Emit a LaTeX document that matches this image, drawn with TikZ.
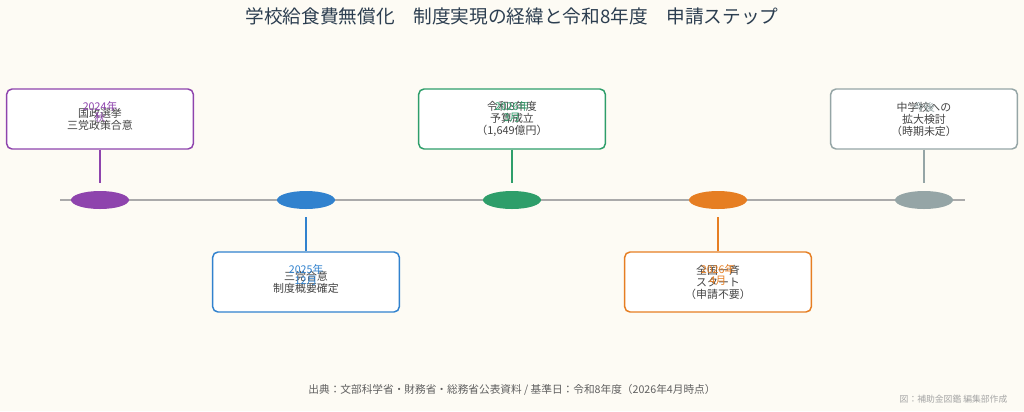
\documentclass[tikz,border=0pt]{standalone}
\usepackage{fontspec}
\setmainfont{Noto Sans CJK JP}
\usetikzlibrary{shapes.geometric}
\definecolor{bgcol}{HTML}{FDFBF4}
\definecolor{titlecol}{HTML}{2C3E50}
\definecolor{txtcol}{HTML}{444444}
\definecolor{linecol}{HTML}{AAAAAA}
\definecolor{cpurple}{HTML}{8E44AD}
\definecolor{cblue}{HTML}{3182CE}
\definecolor{cgreen}{HTML}{2E9E6A}
\definecolor{corange}{HTML}{E67E22}
\definecolor{cgrey}{HTML}{95A5A6}
\begin{document}
\begin{tikzpicture}[x=0.75pt,y=-0.75pt,
  evbox/.style={draw=#1, fill=white, rounded corners=4pt, line width=1.1pt, align=center,
    minimum width=140pt, minimum height=45pt, inner sep=0pt, text=txtcol,
    font=\fontsize{8.2}{9}\selectfont},
  datelbl/.style={text=#1, align=center, inner sep=0pt, font=\fontsize{8}{8.4}\selectfont},
  dot/.style={ellipse, fill=#1, minimum width=43.5pt, minimum height=13.5pt, inner sep=0pt},
  tick/.style={draw=#1, line width=1.1pt}]
\useasboundingbox[fill=bgcol] (0,0) rectangle (1024,411);
\node[text=titlecol, font=\fontsize{14}{16}\selectfont] (title) at (512,16) {学校給食費無償化\hspace{1em}制度実現の経緯と令和8年度\hspace{1em}申請ステップ};
% timeline
\coordinate (tl-start) at (60,200);
\coordinate (tl-end) at (965,200);
\draw[linecol, line width=1.5pt] (tl-start) -- (tl-end);
\node[dot=cpurple] (e1) at (100,200) {};
\node[dot=cblue] (e2) at (306,200) {};
\node[dot=cgreen] (e3) at (512,200) {};
\node[dot=corange] (e4) at (718,200) {};
\node[dot=cgrey] (e5) at (924,200) {};
% event boxes
\node[evbox=cpurple] (b1) at (100,119) {国政選挙\\三党政策合意};
\node[evbox=cblue] (b2) at (306,282) {三党合意\\制度概要確定};
\node[evbox=cgreen] (b3) at (512,119) {令和8年度\\予算成立\\（1,649億円）};
\node[evbox=corange] (b4) at (718,282) {全国一斉\\スタート\\（申請不要）};
\node[evbox=cgrey] (b5) at (924,119) {中学校への\\拡大検討\\（時期未定）};
% dates
\node[datelbl=cpurple] (d1) at (100,112) {2024年\\秋};
\node[datelbl=cblue] (d2) at (306,275) {2025年\\12月};
\node[datelbl=cgreen] (d3) at (512,112) {2026年\\3月};
\node[datelbl=corange] (d4) at (718,275) {2026年\\4月};
\node[datelbl=cgrey] (d5) at (924,107) {今後};
% connectors
\draw[tick=cpurple, shorten >=6pt] (b1) -- (e1);
\draw[tick=cblue, shorten >=6pt] (b2) -- (e2);
\draw[tick=cgreen, shorten >=6pt] (b3) -- (e3);
\draw[tick=corange, shorten >=6pt] (b4) -- (e4);
\draw[tick=cgrey, shorten >=6pt] (b5) -- (e5);
% footer
\node[text=txtcol!85, font=\fontsize{8}{9}\selectfont] (src) at (512,390) {出典：文部科学省・財務省・総務省公表資料 / 基準日：令和8年度（2026年4月時点）};
\node[text=gray!70, font=\fontsize{6.6}{8}\selectfont, anchor=east] (credit) at (1012,399) {図：補助金図鑑 編集部作成};
\end{tikzpicture}
\end{document}
